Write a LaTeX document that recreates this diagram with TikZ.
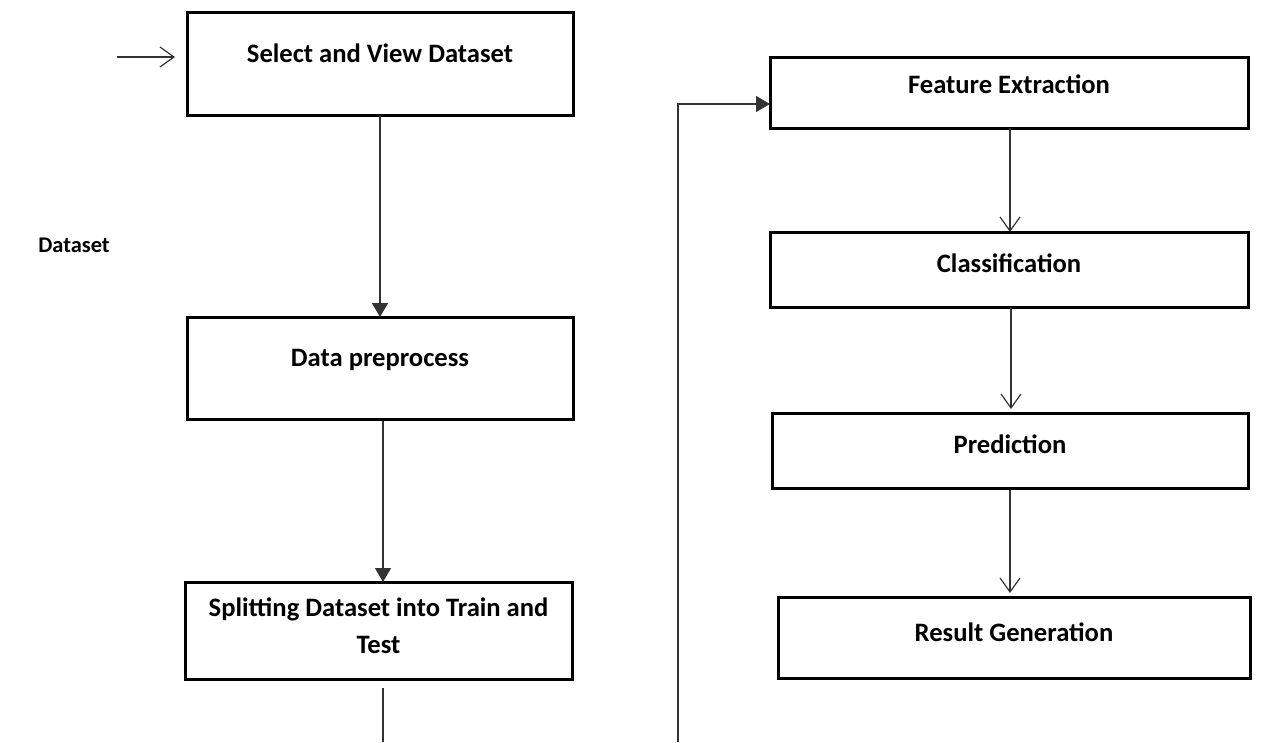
\documentclass[tikz,border=0pt]{standalone}
\usepackage{fontspec}
\setmainfont{Carlito}
\usetikzlibrary{arrows.meta}
\tikzset{
  box/.style={draw=black, line width=3pt, fill=white, inner sep=0pt, outer sep=0pt},
  lbl/.style={font=\fontsize{26.6}{37}\selectfont\bfseries, inner sep=0pt, align=center, text=black},
  side/.style={font=\fontsize{22.4}{30}\selectfont\bfseries, inner sep=0pt, text=black},
  conn/.style={draw=black!80, line width=1.3pt},
  fillhead/.style={-{Triangle[width=16pt,length=14pt]}},
  openhead/.style={-{Straight Barb[width=20pt,length=14pt,line width=1.2pt]}}
}
\begin{document}
\begin{tikzpicture}[x=1pt,y=-1pt]
\useasboundingbox (0,0) rectangle (1264,742);
% left column
\node[box, minimum width=386pt, minimum height=103pt] (b1) at (380,63.5) {};
\node[lbl] (t1) at (380,53) {Select and View Dataset};
\node[box, minimum width=386pt, minimum height=102pt] (b2) at (380,368) {};
\node[lbl] (t2) at (380,360) {Data preprocess};
\node[box, minimum width=387pt, minimum height=97pt] (b3) at (378.5,630.5) {};
\node[lbl] (t3) at (378.5,626) {Splitting Dataset into Train and\\Test};
\node[side] (ds) at (74,245) {Dataset};
% right column
\node[box, minimum width=478pt, minimum height=71pt] (f1) at (1009,92.5) {};
\node[lbl] (tf1) at (1009,84) {Feature Extraction};
\node[box, minimum width=478pt, minimum height=75pt] (f2) at (1009,269.5) {};
\node[lbl] (tf2) at (1009,263) {Classification};
\node[box, minimum width=476pt, minimum height=75pt] (f3) at (1010,450.5) {};
\node[lbl] (tf3) at (1010,444) {Prediction};
\node[box, minimum width=472pt, minimum height=81pt] (f4) at (1014,637.5) {};
\node[lbl] (tf4) at (1014,632) {Result Generation};
% connectors
\coordinate (in) at (117,57);
\draw[conn, openhead] (in) -- (175,57);
\draw[conn, fillhead] (b1.south) -- (b2.north);
\coordinate (s2) at (383,421);
\draw[conn, fillhead] (s2) -- (b3.north -| s2);
\coordinate (s3) at (383,688);
\coordinate (e3) at (383,742);
\draw[conn] (s3) -- (e3);
\coordinate (fb) at (678,742);
\draw[conn, fillhead] (fb) |- ([yshift=-11.5pt]f1.west);
\coordinate (a1) at (1010,128);
\draw[conn, openhead] (a1) -- (f2.north -| a1);
\coordinate (a2) at (1011,307);
\draw[conn, openhead] (a2) -- (1011,409);
\coordinate (a3) at (1010,490);
\draw[conn, openhead] (a3) -- (1010,593);
\end{tikzpicture}
\end{document}
